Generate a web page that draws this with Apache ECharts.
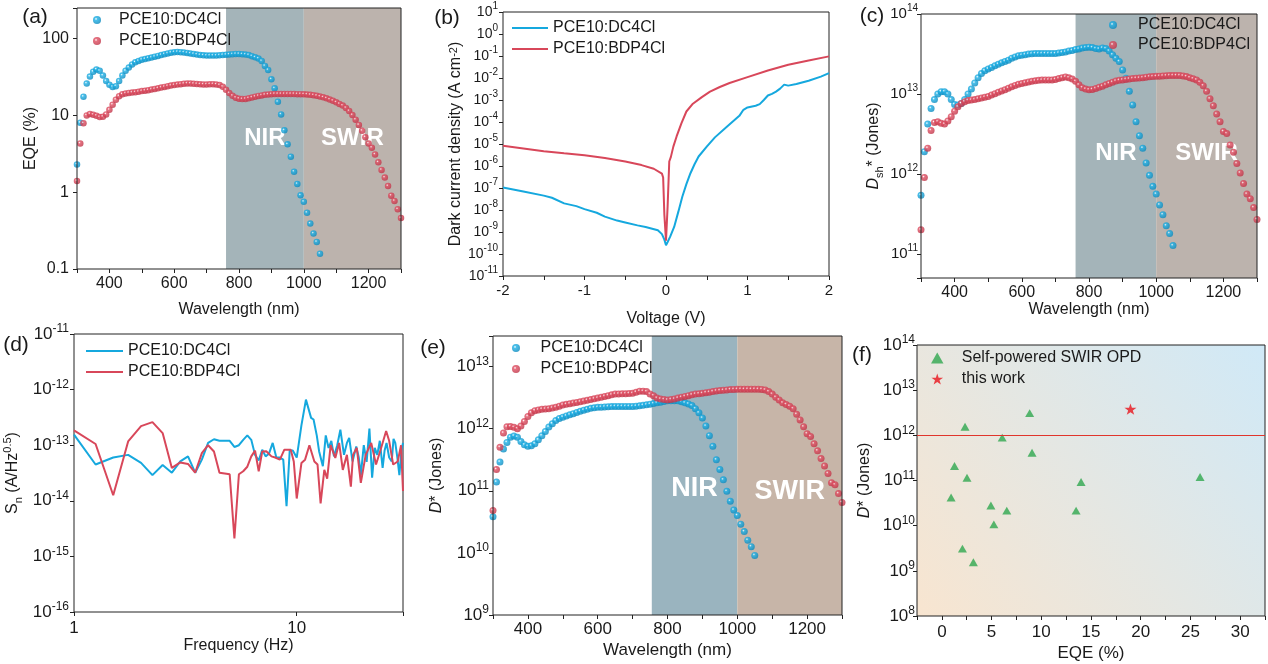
<!DOCTYPE html>
<html><head><meta charset="utf-8">
<script src="https://cdn.jsdelivr.net/npm/echarts@6/dist/echarts.min.js"></script>
<style>html,body{margin:0;padding:0;background:#fff}#c{width:1268px;height:664px}</style>
</head><body><div id="c"></div>
<script>
// ---------- DATA ----------
const wavelength = [300,310,320,330,340,350,360,370,380,390,400,410,420,430,440,450,460,470,480,490,500,510,520,530,540,550,560,570,580,590,600,610,620,630,640,650,660,670,680,690,700,710,720,730,740,750,760,770,780,790,800,810,820,830,840,850,860,870,880,890,900,910,920,930,940,950,960,970,980,990,1000,1010,1020,1030,1040,1050,1060,1070,1080,1090,1100,1110,1120,1130,1140,1150,1160,1170,1180,1190,1200,1210,1220,1230,1240,1250,1260,1270,1280,1290,1300];

// (a) EQE (%)
const eqeDC4Cl = [2.3,8.0,17.5,26,32,37,39.5,38,33,28,25,23.5,24,28,33,38,42,46,49,51,53,54,55.5,56.5,58,59.5,61,62.5,64,65.5,66.5,67,66.5,66,65,64,63,62,61,60.5,60,60,60,60,60.5,61,61.5,62,62.5,63,63,62.5,62,61,59,57,55,51,44,39,29.5,22.5,15,10.3,6.4,4.2,2.9,1.85,1.28,0.91,0.75,0.54,0.39,0.29,0.225,0.158];
const eqeBDP4Cl = [1.4,4.3,7.9,10,10.4,10.2,9.9,9.5,9.6,10.3,11.8,13.8,16,17.8,18.8,19.3,19.6,19.8,20,20.3,20.7,21,21.3,21.7,22,22.5,23,23.5,24,24.4,24.8,25.2,25.5,25.8,26,26,25.8,25.6,25.4,25.3,25.3,25.4,25.5,25.3,24.8,23.6,21.5,19.5,18,17,16.5,16.3,16.4,16.7,17.1,17.5,17.9,18.2,18.5,18.7,18.9,19,19,19,19,19,19,19,18.9,18.9,18.8,18.7,18.5,18.3,18,17.6,17.2,16.7,16.1,15.5,14.8,14.1,13.4,12.5,11.4,10.1,8.8,7.5,6.3,5.2,4.3,3.8,3.1,2.45,1.95,1.55,1.2,0.9,0.77,0.6,0.46];

// (b) dark current density (A cm^-2)
const voltDC4Cl = [-2,-1.75,-1.5,-1.4,-1.25,-1.1,-1,-0.85,-0.75,-0.6,-0.5,-0.35,-0.25,-0.1,-0.05,-0.02,0,0.02,0.05,0.1,0.15,0.2,0.25,0.3,0.35,0.4,0.5,0.6,0.75,0.9,0.95,1,1.1,1.15,1.2,1.25,1.3,1.35,1.4,1.45,1.5,1.6,1.75,1.9,2];
const jDC4Cl = [1.05e-7,7e-8,4.5e-8,3.6e-8,2e-8,1.5e-8,1.1e-8,7.5e-9,5e-9,3.3e-9,2.7e-9,2e-9,1.7e-9,1.2e-9,8e-10,4.5e-10,2.5e-10,3.5e-10,6e-10,1.7e-9,8e-9,4e-8,1.5e-7,4.7e-7,1.2e-6,2.7e-6,7.6e-6,2e-5,6.3e-5,1.9e-4,3.6e-4,4.6e-4,5.5e-4,6.5e-4,1e-3,1.6e-3,1.9e-3,2.4e-3,3.3e-3,5e-3,4.5e-3,5.3e-3,7.5e-3,1.15e-2,1.66e-2];
const voltBDP4Cl = [-2,-1.75,-1.5,-1.25,-1,-0.75,-0.5,-0.3,-0.15,-0.05,-0.035,-0.02,0,0.02,0.04,0.06,0.09,0.13,0.19,0.25,0.33,0.44,0.54,0.66,0.78,1,1.25,1.5,1.75,2];
const jBDP4Cl = [8.3e-6,6.3e-6,4.7e-6,3.8e-6,3.1e-6,2.3e-6,1.6e-6,1.1e-6,7.5e-7,4.5e-7,3e-7,6e-9,4e-10,1.5e-8,1.6e-6,2.6e-6,7.6e-6,2.2e-5,8.9e-5,3e-4,6.8e-4,1.35e-3,2.4e-3,3.9e-3,5.9e-3,1.1e-2,2.2e-2,4e-2,6.3e-2,9.6e-2];

// (c) Dsh* (Jones)
const dshDC4Cl = [5.4e11,1.9e12,4.2e12,6.6e12,8.5e12,1.0e13,1.07e13,1.07e13,1.0e13,8.5e12,7.4e12,7.3e12,7.6e12,8.5e12,1.0e13,1.15e13,1.37e13,1.6e13,1.8e13,1.95e13,2.05e13,2.15e13,2.25e13,2.35e13,2.45e13,2.55e13,2.65e13,2.8e13,2.9e13,3.0e13,3.05e13,3.1e13,3.15e13,3.18e13,3.2e13,3.2e13,3.2e13,3.2e13,3.2e13,3.2e13,3.2e13,3.25e13,3.3e13,3.35e13,3.45e13,3.5e13,3.6e13,3.65e13,3.75e13,3.8e13,3.85e13,3.8e13,3.7e13,3.65e13,3.75e13,3.7e13,3.45e13,3.1e13,2.8e13,2.55e13,2.0e13,1.57e13,1.08e13,7.3e12,4.5e12,3.0e12,2.1e12,1.37e12,9.6e11,7e11,5.6e11,4.1e11,3.1e11,2.25e11,1.8e11,1.27e11];
const dshBDP4Cl = [2e11,9e11,2.1e12,3.5e12,4.4e12,4.5e12,4.3e12,4.2e12,4.6e12,5.2e12,6.1e12,6.9e12,7.6e12,8.0e12,8.3e12,8.4e12,8.5e12,8.7e12,8.9e12,9.1e12,9.3e12,9.7e12,1.01e13,1.05e13,1.09e13,1.13e13,1.18e13,1.23e13,1.28e13,1.32e13,1.35e13,1.38e13,1.41e13,1.44e13,1.46e13,1.48e13,1.49e13,1.5e13,1.5e13,1.5e13,1.52e13,1.56e13,1.6e13,1.63e13,1.6e13,1.54e13,1.44e13,1.3e13,1.2e13,1.15e13,1.13e13,1.14e13,1.17e13,1.21e13,1.25e13,1.3e13,1.35e13,1.4e13,1.45e13,1.48e13,1.5e13,1.52e13,1.54e13,1.56e13,1.57e13,1.58e13,1.6e13,1.62e13,1.64e13,1.65e13,1.66e13,1.67e13,1.68e13,1.69e13,1.7e13,1.7e13,1.7e13,1.7e13,1.68e13,1.65e13,1.6e13,1.55e13,1.5e13,1.4e13,1.27e13,1.08e13,8.7e12,7.1e12,5.6e12,4.5e12,3.4e12,3.2e12,2.3e12,1.87e12,1.35e12,1.03e12,7.6e11,5.6e11,4.9e11,3.8e11,2.7e11];

// (d) noise spectral density
const freqDC4Cl = [1,1.25,1.5,1.75,2,2.25,2.5,2.75,3,3.25,3.5,3.75,4,4.25,4.5,4.75,5,5.25,5.5,5.75,6,6.25,6.5,6.75,7,7.25,7.5,7.8,8.1,8.4,8.7,9.0,9.3,9.6,10.0,10.5,11.0,11.3,11.6,11.9,12.3,12.6,13.1,13.5,13.9,14.3,14.7,15.2,15.7,16.3,16.8,17.2,17.8,18.5,19.0,19.4,20.0,20.6,21.2,21.8,22.4,23.0,23.6,24.3,24.8,25.3,26.0,26.7,27.2,27.7,28.3,28.9,29.5,30];
const snDC4Cl = [1.55e-13,4.5e-14,6e-14,6.7e-14,4.8e-14,2.9e-14,4.4e-14,3.2e-14,5.1e-14,6.3e-14,3.2e-14,5.5e-14,1.1e-13,1.28e-13,1.2e-13,1.2e-13,1.2e-13,9.3e-14,1.0e-13,1.25e-13,1.5e-13,1.25e-13,6.7e-14,5.3e-14,8.3e-14,6.3e-14,7e-14,1.1e-13,6e-14,6e-14,5.5e-14,8e-15,8e-14,8e-14,6e-14,2.3e-13,6.6e-13,4.5e-13,3.1e-13,2.9e-13,1.5e-13,7.8e-14,4.2e-14,1.5e-13,8.9e-14,1.2e-13,6.3e-14,1.0e-13,1.9e-13,6.7e-14,1.1e-13,1.35e-13,5.1e-14,9.5e-14,6e-14,2.9e-14,1e-13,5e-14,2e-13,2.6e-14,9e-14,6.7e-14,1.2e-13,3.9e-14,8e-14,1.1e-13,6e-14,5.1e-14,1.3e-13,1.1e-13,6e-14,2.9e-14,8e-14,1.1e-13];
const freqBDP4Cl = [1,1.25,1.5,1.75,2,2.25,2.5,2.75,3,3.25,3.5,3.75,4,4.25,4.5,4.75,5,5.25,5.5,5.75,6,6.25,6.5,6.75,7,7.3,7.7,8.0,8.4,8.8,9.4,9.7,10.0,10.5,10.9,11.4,12.0,12.4,12.8,13.3,13.7,14.2,14.9,15.5,16.1,16.8,17.5,17.9,18.6,19.4,20.4,21.6,22.7,23.8,25.2,26.0,27.1,28.4,29.4,30];
const snBDP4Cl = [1.85e-13,1.05e-13,1.26e-14,1.17e-13,2.2e-13,2.6e-13,1.65e-13,3.9e-14,4.9e-14,4.6e-14,3.2e-14,7.2e-14,1.0e-13,7.7e-14,3.2e-14,3.1e-14,3e-14,2.1e-15,3e-14,3.4e-14,4.1e-14,6.3e-14,8e-14,3.4e-14,7.7e-14,7.8e-14,6.3e-14,6e-14,5.5e-14,8.3e-14,8.3e-14,5.1e-14,1.1e-14,4.8e-14,5.5e-14,1.0e-13,5.1e-14,4.5e-14,9e-15,3.6e-14,2.5e-14,1e-13,5.9e-14,1.1e-13,3.6e-14,6.7e-14,1.8e-14,6.7e-14,9e-14,2.1e-14,6.7e-14,1.1e-13,4.5e-14,8.3e-14,1.8e-13,1.2e-13,4.5e-14,5.1e-14,1.0e-13,1.5e-14];

// (e) D* (Jones)
const dDC4Cl = [3.8e10,1.38e11,2.9e11,4.7e11,6.0e11,7.3e11,7.6e11,7.3e11,6.2e11,5.5e11,5.2e11,5.3e11,5.7e11,6.6e11,7.7e11,9.0e11,1.06e12,1.2e12,1.35e12,1.45e12,1.53e12,1.6e12,1.67e12,1.74e12,1.82e12,1.9e12,1.98e12,2.05e12,2.12e12,2.17e12,2.2e12,2.22e12,2.24e12,2.26e12,2.27e12,2.28e12,2.28e12,2.28e12,2.28e12,2.28e12,2.28e12,2.3e12,2.33e12,2.37e12,2.42e12,2.47e12,2.53e12,2.6e12,2.67e12,2.74e12,2.8e12,2.82e12,2.82e12,2.8e12,2.72e12,2.6e12,2.5e12,2.35e12,2.1e12,1.8e12,1.48e12,1.1e12,7.7e11,5.2e11,3.15e11,2.2e11,1.5e11,9.8e10,6.8e10,4.9e10,4.0e10,2.9e10,2.2e10,1.6e10,1.26e10,9.1e9];
const dBDP4Cl = [4.8e10,2.2e11,5e11,8.5e11,1.07e12,1.08e12,1.05e12,1.0e12,1.1e12,1.3e12,1.57e12,1.8e12,1.95e12,2.0e12,2.05e12,2.07e12,2.1e12,2.15e12,2.2e12,2.3e12,2.4e12,2.46e12,2.52e12,2.58e12,2.64e12,2.7e12,2.78e12,2.86e12,2.94e12,3.02e12,3.1e12,3.2e12,3.3e12,3.4e12,3.5e12,3.6e12,3.62e12,3.64e12,3.66e12,3.68e12,3.7e12,3.85e12,4.0e12,4.0e12,3.95e12,3.6e12,3.4e12,3.1e12,3.0e12,2.95e12,2.9e12,2.95e12,3.0e12,3.1e12,3.2e12,3.3e12,3.4e12,3.5e12,3.6e12,3.65e12,3.7e12,3.8e12,3.85e12,3.95e12,4.05e12,4.1e12,4.15e12,4.2e12,4.25e12,4.28e12,4.3e12,4.3e12,4.3e12,4.3e12,4.3e12,4.3e12,4.3e12,4.28e12,4.2e12,3.95e12,3.6e12,3.2e12,2.9e12,2.6e12,2.45e12,2.3e12,2.1e12,1.7e12,1.38e12,1.07e12,8.3e11,7.5e11,5.7e11,4.4e11,3.3e11,2.5e11,1.9e11,1.35e11,1.25e11,9e10,6.5e10];

// (f) literature comparison
const opdEqe = [2.33,8.83,6.07,9.07,1.27,2.53,14.0,25.97,0.93,4.93,6.53,13.5,5.23,2.07,3.17];
const opdD = [1.55e12,3.1e12,8.9e11,4.1e11,2.1e11,1.15e11,9.3e10,1.2e11,4.2e10,2.8e10,2.15e10,2.15e10,1.07e10,3.1e9,1.55e9];
const thisWorkEqe = [18.97];
const thisWorkD = [3.8e12];

const LEGEND_TEXT = {a1:'PCE10:DC4Cl',a2:'PCE10:BDP4Cl',b1:'PCE10:DC4Cl',b2:'PCE10:BDP4Cl',c1:'PCE10:DC4Cl',c2:'PCE10:BDP4Cl',d1:'PCE10:DC4Cl',d2:'PCE10:BDP4Cl',e1:'PCE10:DC4Cl',e2:'PCE10:BDP4Cl',f1:'Self-powered SWIR OPD',f2:'this work'};

// ---------- HELPERS ----------
const F = "'Liberation Sans', Arial, Helvetica, sans-serif";
const TXT = '#1a1a1a';
const BLUE = '#15a8de', RED = '#d8475a';
const pairs = (xs, ys) => ys.map((y, i) => [xs[i], y]);
const ball = (c1, c2) => ({type:'radial', x:0.38, y:0.36, r:0.62, colorStops:[{offset:0,color:'#ffffff'},{offset:0.3,color:c1},{offset:1,color:c2}]});
const BALL_B = ball('#1cb0e6', '#0d8cc0');
const BALL_R = ball('#e04e62', '#c13649');
const CIRCLE = 'path://M50,0 A50,50 0 1,1 49.99,0 Z';
const TRI = 'path://M50,0 L100,88 L0,88 Z';
const STAR = 'path://M50,0 L61.8,35.5 L99,35.5 L69,57.5 L80.5,93 L50,71 L19.5,93 L31,57.5 L1,35.5 L38.2,35.5 Z';
function decade(v){ const e = Math.log10(v); const r = Math.round(e); return Math.abs(e - r) < 1e-6 ? r : null; }
const powFmt = v => { const e = decade(v); return e === null ? '' : '{b|10}{s|' + e + '}'; };
const powRich = (fs, ss) => ({b:{fontSize:fs, lineHeight:22, fontFamily:F, color:TXT}, s:{fontSize:ss, lineHeight:10, verticalAlign:'top', fontFamily:F, color:TXT}});
const wlFmt = v => (v % 200 === 0 && v >= 400 && v <= 1200) ? String(v) : '';
const nameRich = {
  n:{fontSize:16, lineHeight:22, fontFamily:F, color:TXT},
  i:{fontSize:16, lineHeight:22, fontFamily:F, color:TXT, fontStyle:'italic'},
  sub:{fontSize:11, lineHeight:10, verticalAlign:'bottom', fontFamily:F, color:TXT},
  sup:{fontSize:11, lineHeight:10, verticalAlign:'top', fontFamily:F, color:TXT}
};
const tick = {show:true, length:4, lineStyle:{color:'#222', width:1}};
const noLine = {show:false, onZero:false};
function xAx(g, o){ return Object.assign({gridIndex:g, type:'value', axisLine:noLine, axisTick:tick, splitLine:{show:false}, nameLocation:'middle', nameTextStyle:{fontSize:16, fontFamily:F, color:TXT, rich:nameRich}, z:5}, o); }
function yAx(g, o){ return Object.assign({gridIndex:g, type:'log', axisLine:noLine, axisTick:tick, splitLine:{show:false}, nameLocation:'middle', nameRotate:90, nameTextStyle:{fontSize:16, fontFamily:F, color:TXT, rich:nameRich}, z:5}, o); }
const bandLabel = (txt, fs, dy) => ({show:true, position:'inside', formatter:txt, color:'#ffffff', fontSize:fs, fontWeight:'bold', fontFamily:F, offset:[0, dy]});
function bands(nirStart, fs, dy1, dy2, cNir, cSwir){
  return {silent:true, z:1, data:[
    [{name:'NIR', xAxis:nirStart, itemStyle:{color:cNir, opacity:1}, label:bandLabel('NIR', fs, dy1)}, {xAxis:1000}],
    [{name:'SWIR', xAxis:1000, itemStyle:{color:cSwir, opacity:1}, label:bandLabel('SWIR', fs, dy2)}, {xAxis:1300}]
  ]};
}
function legendAt(items, left, top, iw, ih, gap){
  return {data:items, left:left, top:top, orient:'vertical', padding:0, itemWidth:iw, itemHeight:ih, itemGap:gap, symbolKeepAspect:true,
    formatter: n => LEGEND_TEXT[n], textStyle:{fontSize:16, fontFamily:F, color:TXT}, selectedMode:false};
}
const dotItems = (a, b) => [{name:a, icon:CIRCLE}, {name:b, icon:CIRCLE}];
const lineItems = (a, b) => [{name:a, icon:'rect'}, {name:b, icon:'rect'}];

const gridBase = {show:true, borderColor:'#222', borderWidth:1, z:3, containLabel:false};
const option = {
  animation:false,
  backgroundColor:'#ffffff',
  textStyle:{fontFamily:F},
  grid:[
    Object.assign({left:77, top:8, width:324, height:261}, gridBase),
    Object.assign({left:503, top:12, width:326, height:264}, gridBase),
    Object.assign({left:921, top:14, width:336, height:264}, gridBase),
    Object.assign({left:74, top:334, width:329, height:278}, gridBase),
    Object.assign({left:493, top:336, width:349, height:279}, gridBase),
    {left:917, top:345, width:349, height:271, show:true, borderColor:'#222', borderWidth:1, z:0,
      backgroundColor:{type:'linear', x:0, y:1, x2:1, y2:0, colorStops:[{offset:0,color:'#f8e5d0'},{offset:1,color:'#d0e9f7'}]}}
  ],
  xAxis:[
    xAx(0,{min:300, max:1300, interval:100, axisLabel:{formatter:wlFmt, fontSize:16, color:TXT, margin:7}, name:'Wavelength (nm)', nameGap:33}),
    xAx(1,{min:-2, max:2, interval:0.5, axisLabel:{formatter:v => Number.isInteger(v) ? String(v) : '', fontSize:15, color:TXT, margin:7}, name:'Voltage (V)', nameGap:35}),
    xAx(2,{min:300, max:1300, interval:100, axisLabel:{formatter:wlFmt, fontSize:16, color:TXT, margin:7}, name:'Wavelength (nm)', nameGap:24}),
    xAx(3,{type:'log', min:1, max:30, axisLabel:{formatter:v => { const e = decade(v); return (e === 0 || e === 1) ? String(Math.round(v)) : ''; }, fontSize:17, color:TXT, margin:8}, name:'Frequency (Hz)', nameGap:19}),
    xAx(4,{min:300, max:1300, interval:100, axisLabel:{formatter:wlFmt, fontSize:17, color:TXT, margin:6}, name:'Wavelength (nm)', nameGap:27, nameTextStyle:{fontSize:17, fontFamily:F, color:TXT}}),
    xAx(5,{min:-2.5, max:32.5, interval:2.5, axisLabel:{formatter:v => (Math.abs(v % 5) < 1e-9 && v >= 0) ? String(v) : '', fontSize:17, color:TXT, margin:8}, name:'EQE (%)', nameGap:29, nameTextStyle:{fontSize:17, fontFamily:F, color:TXT}})
  ],
  yAxis:[
    yAx(0,{min:0.1, max:250, axisLabel:{formatter:v => { const e = decade(v); return e === null ? '' : ({'-1':'0.1','0':'1','1':'10','2':'100'})[e]; }, fontSize:16, color:TXT, margin:8}, name:'EQE (%)', nameGap:26}),
    yAx(1,{min:1e-11, max:10, interval:1, axisLabel:{formatter:powFmt, rich:powRich(14,10), margin:5}, name:'Dark current density (A cm{sup|-2})', nameGap:35}),
    yAx(2,{min:5e10, max:1e14, axisLabel:{formatter:powFmt, rich:powRich(15,10), margin:3}, name:'{i|D}{sub|sh}{n|* (Jones)}', nameGap:36}),
    yAx(3,{min:1e-16, max:1e-11, axisLabel:{formatter:powFmt, rich:powRich(17,12), margin:5}, name:'{n|S}{sub|n}{n| (A/Hz}{sup|0.5}{n|)}', nameGap:50}),
    yAx(4,{min:1e9, max:3.1e13, axisLabel:{formatter:powFmt, rich:powRich(17,12), margin:4}, name:'{i|D}{n|* (Jones)}', nameGap:45}),
    yAx(5,{min:1e8, max:1e14, axisLabel:{formatter:powFmt, rich:powRich(17,12), margin:2}, name:'{i|D}{n|* (Jones)}', nameGap:41})
  ],
  legend:[
    legendAt(dotItems('a1','a2'), 93, 12, 34, 8, 5),
    legendAt(lineItems('b1','b2'), 512, 20, 36, 2, 5),
    legendAt(dotItems('c1','c2'), 1109, 17, 40, 8, 4),
    legendAt(lineItems('d1','d2'), 86, 343, 37, 2, 5),
    legendAt(dotItems('e1','e2'), 512, 340, 39, 8, 5),
    legendAt([{name:'f1', icon:TRI}, {name:'f2', icon:STAR}], 931, 350, 39, 11, 5)
  ],
  series:[
    {name:'a1', type:'scatter', xAxisIndex:0, yAxisIndex:0, data:pairs(wavelength, eqeDC4Cl), symbolSize:6.5, itemStyle:{color:BALL_B},
      markArea:bands(760, 24, 0, 0, '#a4b4b9', '#bcb3ad')},
    {name:'a2', type:'scatter', xAxisIndex:0, yAxisIndex:0, data:pairs(wavelength, eqeBDP4Cl), symbolSize:6.5, itemStyle:{color:BALL_R}},
    {name:'b1', type:'line', xAxisIndex:1, yAxisIndex:1, data:pairs(voltDC4Cl, jDC4Cl), symbol:'none', lineStyle:{color:BLUE, width:2}, itemStyle:{color:BLUE}},
    {name:'b2', type:'line', xAxisIndex:1, yAxisIndex:1, data:pairs(voltBDP4Cl, jBDP4Cl), symbol:'none', lineStyle:{color:RED, width:2}, itemStyle:{color:RED}},
    {name:'c1', type:'scatter', xAxisIndex:2, yAxisIndex:2, data:pairs(wavelength, dshDC4Cl), symbolSize:7, itemStyle:{color:BALL_B},
      markArea:bands(760, 24, 7, 7, '#a4b4b9', '#bcb3ad')},
    {name:'c2', type:'scatter', xAxisIndex:2, yAxisIndex:2, data:pairs(wavelength, dshBDP4Cl), symbolSize:7, itemStyle:{color:BALL_R}},
    {name:'d1', type:'line', xAxisIndex:3, yAxisIndex:3, data:pairs(freqDC4Cl, snDC4Cl), symbol:'none', lineStyle:{color:BLUE, width:2}, itemStyle:{color:BLUE}},
    {name:'d2', type:'line', xAxisIndex:3, yAxisIndex:3, data:pairs(freqBDP4Cl, snBDP4Cl), symbol:'none', lineStyle:{color:RED, width:2}, itemStyle:{color:RED}},
    {name:'e1', type:'scatter', xAxisIndex:4, yAxisIndex:4, data:pairs(wavelength, dDC4Cl), symbolSize:7, itemStyle:{color:BALL_B},
      markArea:bands(755, 27, 13, 16, '#9ab4bf', '#c7b5a8')},
    {name:'e2', type:'scatter', xAxisIndex:4, yAxisIndex:4, data:pairs(wavelength, dBDP4Cl), symbolSize:7, itemStyle:{color:BALL_R}},
    {name:'f1', type:'scatter', xAxisIndex:5, yAxisIndex:5, data:pairs(opdEqe, opdD), symbol:TRI, symbolSize:9, symbolKeepAspect:true, itemStyle:{color:'#2fa84f'},
      markLine:{silent:true, symbol:'none', label:{show:false}, lineStyle:{color:'#e0352c', width:1, type:'solid', opacity:1}, data:[{yAxis:1e12}]}},
    {name:'f2', type:'scatter', xAxisIndex:5, yAxisIndex:5, data:pairs(thisWorkEqe, thisWorkD), symbol:STAR, symbolSize:12, symbolKeepAspect:true, itemStyle:{color:'#e8141c'}}
  ],
  graphic:[
    {type:'text', x:35, y:17, style:{text:'(a)', font:'21px ' + F, fill:TXT, align:'center', verticalAlign:'middle'}},
    {type:'text', x:447, y:18, style:{text:'(b)', font:'21px ' + F, fill:TXT, align:'center', verticalAlign:'middle'}},
    {type:'text', x:872, y:16, style:{text:'(c)', font:'21px ' + F, fill:TXT, align:'center', verticalAlign:'middle'}},
    {type:'text', x:16, y:345, style:{text:'(d)', font:'21px ' + F, fill:TXT, align:'center', verticalAlign:'middle'}},
    {type:'text', x:433, y:348, style:{text:'(e)', font:'21px ' + F, fill:TXT, align:'center', verticalAlign:'middle'}},
    {type:'text', x:862, y:355, style:{text:'(f)', font:'21px ' + F, fill:TXT, align:'center', verticalAlign:'middle'}}
  ]
};
const chart = echarts.init(document.getElementById('c'), null, {renderer:'canvas'});
chart.setOption(option);
</script>
</body></html>
